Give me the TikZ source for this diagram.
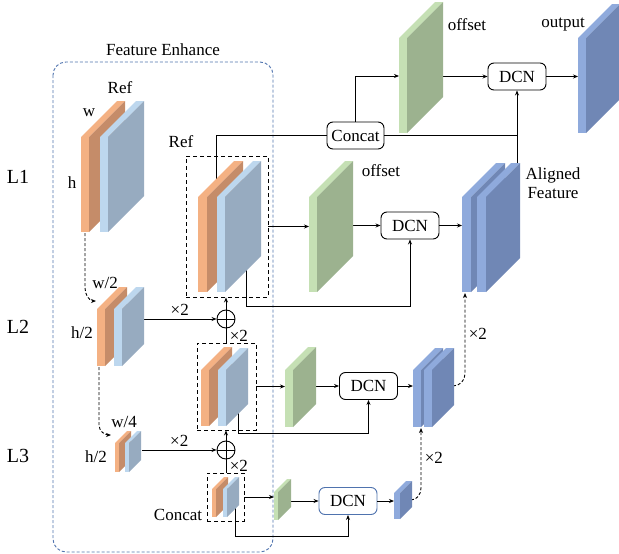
\documentclass[tikz,border=0pt]{standalone}
\usepackage{fontspec}
\setmainfont{Liberation Serif}
\usepackage{xcolor}
\usetikzlibrary{arrows.meta,positioning,calc}

\definecolor{orgF}{HTML}{F4B183}
\definecolor{orgS}{HTML}{C58C69}
\definecolor{gryF}{HTML}{BDD7EE}
\definecolor{gryS}{HTML}{97ABC0}
\definecolor{grnF}{HTML}{C5E0B4}
\definecolor{grnS}{HTML}{9CB28F}
\definecolor{bluF}{HTML}{8FAADC}
\definecolor{bluS}{HTML}{7087B5}
\definecolor{feBlue}{HTML}{4F73AE}

\newcommand{\featmap}[7]{%
  \fill[#6] (#1,#2) -- ++(#3,0) -- ++(#5,-#5) -- ++(-#3,0) -- cycle;
  \fill[#7] (#1+#3,#2) -- ++(#5,-#5) -- ++(0,#4) -- ++(-#5,#5) -- cycle;
  \fill[#6] (#1,#2) rectangle ++(#3,#4);
}

\begin{document}
\begin{tikzpicture}[
    x=1pt, y=-1pt,
    font=\fontsize{17}{19}\selectfont,
    dcn/.style={rectangle, draw, rounded corners=6pt, line width=0.9pt, minimum width=58pt, minimum height=27pt, inner sep=0pt},
    blk/.style={rectangle, draw, line width=0.9pt, dash pattern=on 4pt off 3pt, inner sep=0pt},
    oplus/.style={circle, draw, line width=0.9pt, minimum size=18pt, inner sep=0pt, path picture={\draw[line width=0.9pt] (path picture bounding box.north) -- (path picture bounding box.south) (path picture bounding box.west) -- (path picture bounding box.east);}},
    lvl/.style={font=\fontsize{20}{22}\selectfont},
    fe/.style={draw=feBlue, line width=0.9pt, dash pattern=on 3pt off 2pt, rounded corners=13pt},
    ln/.style={line width=0.9pt},
    arr/.style={-{Stealth[length=5pt,width=4pt]}, line width=0.9pt},
    darr/.style={arr, dash pattern=on 3pt off 2pt}
]
    \useasboundingbox (0,0) rectangle (619,554);
    \draw [fe] (53,62) rectangle (273,552);
    \node (fet) at (163,50) {Feature Enhance};

    \coordinate (mg1t) at (216,180);
    \coordinate (mg1b) at (246,268);
    \coordinate (al1t) at (517,164);
    \coordinate (of0l) at (399,76);
    \coordinate (of0r) at (443,76.5);
    \coordinate (outl) at (578,76.5);
    \coordinate (of1l) at (309,226.5);
    \coordinate (of1r) at (353,225.5);
    \coordinate (al1l) at (462,225.5);
    \coordinate (al1b) at (465,293);
    \coordinate (in1b) at (85,233);
    \coordinate (in2t) at (96,301);
    \coordinate (in2r) at (143,319);
    \coordinate (in2b) at (99,367);
    \coordinate (in3t) at (111,435);
    \coordinate (in3r) at (142,450);
    \coordinate (mg2b) at (238,410);
    \coordinate (of2l) at (285,386.5);
    \coordinate (of2r) at (315,386);
    \coordinate (al2l) at (413,386);
    \coordinate (al2r) at (453,386);
    \coordinate (al2b) at (421,428);
    \coordinate (mg3b) at (235,508);
    \coordinate (of3l) at (274,497);
    \coordinate (of3r) at (290,501);
    \coordinate (o3l) at (394,501);
    \coordinate (o3r) at (411,500);

    \node [dcn] (dcn0) at (517,76.5) {DCN};
    \node [dcn] (dcn1) at (410,225.5) {DCN};
    \node [dcn] (dcn2) at (368.5,386) {DCN};
    \node [dcn, draw=feBlue] (dcn3) at (348,501) {DCN};
    \node [dcn, minimum width=57pt] (cat) at (355.5,135.5) {Concat};
    \node [oplus] (p1) at (226,319) {};
    \node [oplus] (p2) at (226,450) {};
    \node [blk, minimum width=82pt, minimum height=141pt] (box1) at (227,226.5) {};
    \node [blk, minimum width=59pt, minimum height=87pt] (box2) at (226.5,386.5) {};
    \node [blk, minimum width=37pt, minimum height=48pt] (box3) at (225.5,497) {};

    \draw [ln] (mg1t) |- (cat.west);
    \draw [ln] (al1t) |- (cat.east);
    \draw [arr] (al1t) -- (dcn0.south);
    \draw [arr] (cat.north) |- (of0l);
    \draw [arr] (of0r) -- (dcn0.west);
    \draw [arr] (dcn0.east) -- (outl);
    \draw [arr] (box1.east) -- (of1l);
    \draw [arr] (of1r) -- (dcn1.west);
    \draw [arr] (dcn1.east) -- (al1l);
    \draw [arr] (mg1b) -- ++(0,38) -| (dcn1.south);
    \draw [arr] (in2r) -- node[above] {×2} (p1.west);
    \draw [arr] (p1.north) -- (p1.north |- box1.south);
    \draw [ln] (p1.south |- box2.north) -- node[right] {×2} (p1.south);
    \draw [arr] (box2.east) -- (of2l);
    \draw [arr] (of2r) -- (dcn2.west);
    \draw [arr] (dcn2.east) -- (al2l);
    \draw [arr] (mg2b) -- ++(0,23) -| (dcn2.south);
    \draw [arr] (in3r) -- node[above] {×2} (p2.west);
    \draw [arr] (p2.north) -- (p2.north |- box2.south);
    \draw [ln] (p2.south |- box3.north) -- node[right] {×2} (p2.south);
    \draw [arr] (box3.east) -- (of3l);
    \draw [arr] (of3r) -- (dcn3.west);
    \draw [arr] (dcn3.east) -- (o3l);
    \draw [arr] (mg3b) -- ++(0,28) -| (dcn3.south);
    \draw [darr] (in1b) -- ++(0,55) to[out=-90,in=180] (in2t);
    \draw [darr] (in2b) -- ++(0,58) to[out=-90,in=180] (in3t);
    \draw [darr] (al2r) to[out=0,in=-90] ++(12,-12) -- node[right] {×2} (al1b);
    \draw [darr] (o3r) to[out=0,in=-90] ++(10,-12) -- node[right] {×2} (al2b);

    \featmap{81}{137}{8}{95}{36}{orgF}{orgS}
    \featmap{100}{137}{8}{95}{36}{gryF}{gryS}
    \featmap{198}{197}{9}{95}{36}{orgF}{orgS}
    \featmap{217}{197}{8}{95}{36}{gryF}{gryS}
    \featmap{399}{38}{8}{95}{36}{grnF}{grnS}
    \featmap{578}{38}{8}{95}{34}{bluF}{bluS}
    \featmap{309}{197}{8}{95}{36}{grnF}{grnS}
    \featmap{462}{197}{9}{95}{34}{bluF}{bluS}
    \featmap{477}{197}{9}{95}{34}{bluF}{bluS}
    \featmap{97}{309}{8}{57}{22}{orgF}{orgS}
    \featmap{114}{309}{8}{57}{22}{gryF}{gryS}
    \featmap{201}{370}{8}{56}{23}{orgF}{orgS}
    \featmap{218}{370}{8}{56}{22}{gryF}{gryS}
    \featmap{285}{370}{8}{57}{23}{grnF}{grnS}
    \featmap{413}{370}{8}{57}{22}{bluF}{bluS}
    \featmap{424}{370}{8}{57}{22}{bluF}{bluS}
    \featmap{115}{443}{4}{29}{12}{orgF}{orgS}
    \featmap{125}{443}{4}{29}{12}{gryF}{gryS}
    \featmap{212}{489}{4}{28}{12}{orgF}{orgS}
    \featmap{223}{489}{4}{28}{12}{gryF}{gryS}
    \featmap{274}{492}{4}{28}{13}{grnF}{grnS}
    \featmap{394}{493}{6}{26}{12}{bluF}{bluS}

    \node (ref1) at (120,88) {Ref};
    \node (w1) at (89,113) {w};
    \node (h1) at (72,183) {h};
    \node (ref2) at (181,142) {Ref};
    \node [lvl] (l1) at (18,177) {L1};
    \node [lvl] (l2) at (18,327) {L2};
    \node [lvl] (l3) at (18,456) {L3};
    \node (off0) at (467,25) {offset};
    \node (outt) at (563,25) {output};
    \node (off1) at (381,171) {offset};
    \node [align=center] (alf) at (553,183) {Aligned\\Feature};
    \node (w2) at (105,283) {w/2};
    \node (h2) at (82,333) {h/2};
    \node (w4) at (124,422) {w/4};
    \node (h3) at (96,457) {h/2};
    \node (cct) at (178,515) {Concat};
\end{tikzpicture}
\end{document}
